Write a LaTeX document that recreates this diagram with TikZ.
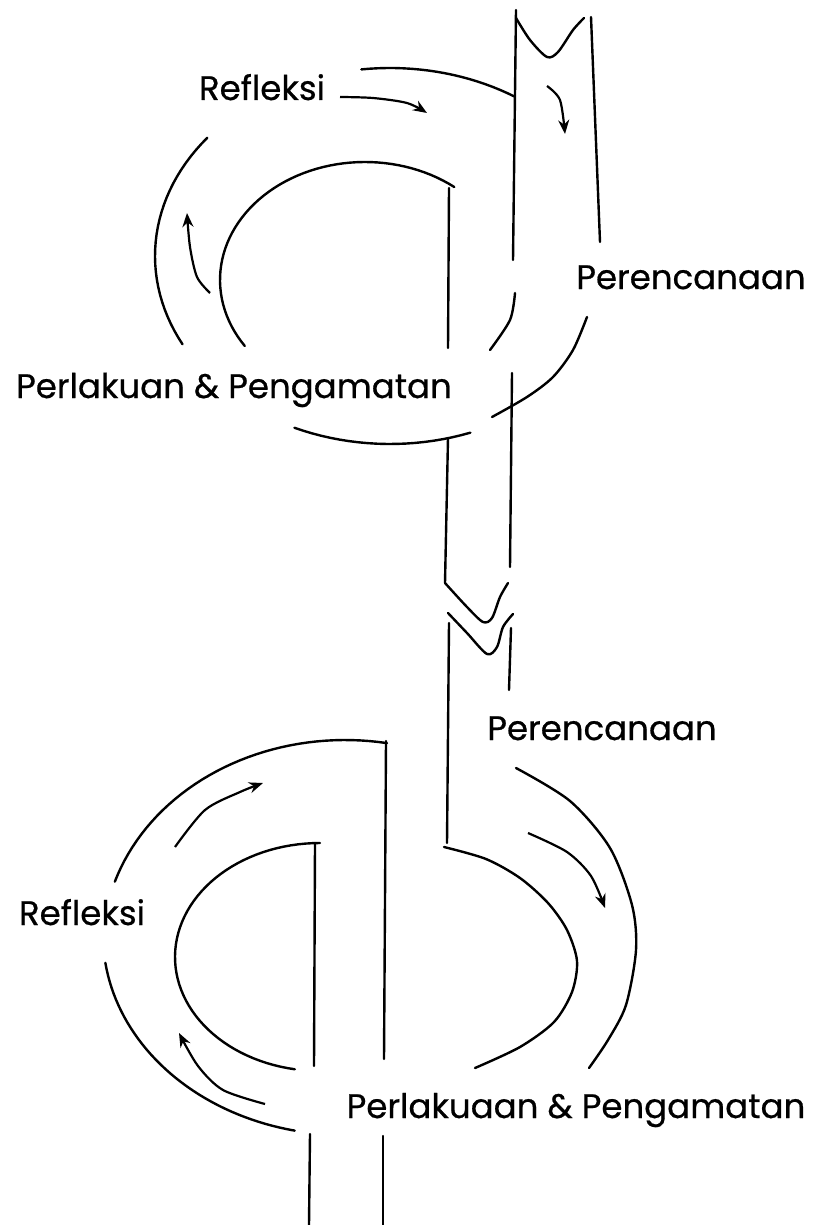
\documentclass[tikz,border=0pt]{standalone}
\usepackage{fontspec}
\setmainfont{Poppins}
\newfontfamily\lblfont{Poppins}[FakeBold=0.6]
\usetikzlibrary{arrows.meta}

\begin{document}
\begin{tikzpicture}[
    x=0.5pt, y=-0.5pt,
    wall/.style={line width=1.2pt, line cap=round},
    arrow/.style={-{Stealth[length=7pt, width=5.5pt]}, line width=1.1pt},
    lbl/.style={font=\lblfont\fontsize{17}{20}\selectfont, anchor=base, inner sep=0pt}
  ]
  \useasboundingbox (0,0) rectangle (817,1225);

  % Define the labels
  \node[lbl] (refl1) at (262,100) {Refleksi};
  \node[lbl] (plan1) at (691,289) {Perencanaan};
  \node[lbl] (act1)  at (234,398) {Perlakuan \& Pengamatan};
  \node[lbl] (plan2) at (602,740) {Perencanaan};
  \node[lbl] (refl2) at (82,925)  {Refleksi};
  \node[lbl] (act2)  at (576,1118) {Perlakuaan \& Pengamatan};

  % Upper cycle: the pipe
  \draw[wall] (516,10) -- (513,260);
  \draw[wall] (591,17) -- (600,242);
  \draw[wall] plot[smooth] coordinates {(516,18) (530,40) (547,57) (558,52) (573,30) (584,18)};
  \draw[wall] plot[smooth] coordinates {(515,293) (510,320) (490,350)};
  \draw[wall] plot[smooth] coordinates {(587,317) (573,350) (553,377) (527,397) (492,417)};
  \draw[wall] (512,373) -- (510,567);

  % Upper cycle: outer ring
  \draw[wall] plot[domain=-97:-58, samples=20] ({390+235*cos(\x)}, {256+188*sin(\x)});
  \draw[wall] plot[domain=152:219, samples=30] ({390+235*cos(\x)}, {256+188*sin(\x)});
  \draw[wall] plot[domain=70:114, samples=20] ({390+235*cos(\x)}, {256+188*sin(\x)});

  % Upper cycle: inner ring
  \draw[wall] plot[domain=-214:-52, samples=60] ({365+145*cos(\x)}, {280+118*sin(\x)});
  \draw[wall] (449,188) -- (448,348);
  \draw[wall] (448,438) -- (445,583);

  % Break in the pipe
  \draw[wall] plot[smooth] coordinates {(445,583) (467,607) (483,622) (492,618) (500,597) (508,583)};
  \draw[wall] plot[smooth] coordinates {(448,613) (467,633) (487,654) (497,647) (503,627) (513,614)};
  \draw[wall] (449,623) -- (447,843);
  \draw[wall] (511,628) -- (509,690);

  % Lower cycle: right half
  \draw[wall] plot[smooth] coordinates {(444,847) (486,859) (520,878) (548,903) (567,930) (577,961) (572,992) (554,1022) (520,1047) (475,1068)};
  \draw[wall] plot[smooth] coordinates {(516,768) (570,801) (610,848) (632,905) (636,950) (626,1005) (608,1040) (589,1068)};

  % Lower cycle: left half
  \draw[wall] (386,741) -- (384,1059);
  \draw[wall] plot[domain=-162:-80, samples=40] ({345+242*cos(\x)}, {945+205*sin(\x)});
  \draw[wall] plot[domain=102:172, samples=40] ({345+242*cos(\x)}, {935+200*sin(\x)});
  \draw[wall] (315,843) -- (314,1066);
  \draw[wall] plot[domain=100:270, samples=60] ({320+145*cos(\x)}, {957+114*sin(\x)});
  \draw[wall] (310,1134) -- (309,1225);
  \draw[wall] (383,1136) -- (383,1225);

  % Draw the cycle arrows
  \draw[arrow] plot[smooth] coordinates {(547,86) (560,100) (565,134)};
  \draw[arrow] plot[smooth] coordinates {(340,97) (373,98) (407,103) (427,113)};
  \draw[arrow] plot[smooth] coordinates {(210,293) (197,277) (190,247) (187,213)};
  \draw[arrow] plot[smooth] coordinates {(528,833) (567,852) (591,876) (605,908)};
  \draw[arrow] plot[smooth] coordinates {(175,847) (205,810) (240,792) (263,783)};
  \draw[arrow] plot[smooth] coordinates {(265,1104) (223,1090) (198,1066) (179,1033)};
\end{tikzpicture}
\end{document}
